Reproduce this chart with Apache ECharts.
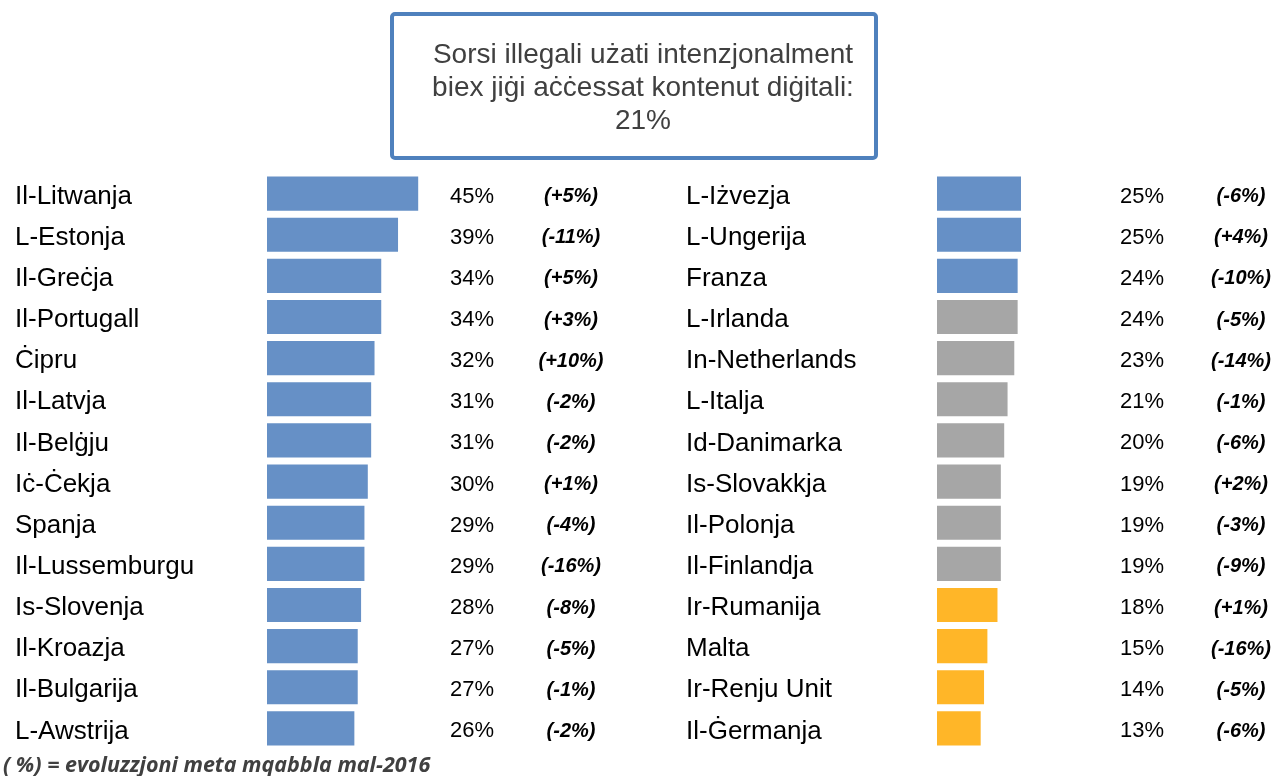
<!DOCTYPE html>
<html lang="mt">
<head>
<meta charset="UTF-8">
<title>Sorsi illegali</title>
<script src="https://cdn.jsdelivr.net/npm/echarts@6/dist/echarts.min.js"></script>
<style>
  html, body { margin: 0; padding: 0; background: #fff; }
  #chart { width: 1275px; height: 776px; }
</style>
</head>
<body>
<div id="chart"></div>
<script>
// data
const leftCountries = ['Il-Litwanja', 'L-Estonja', 'Il-Greċja', 'Il-Portugall', 'Ċipru', 'Il-Latvja', 'Il-Belġju',
  'Iċ-Ċekja', 'Spanja', 'Il-Lussemburgu', 'Is-Slovenja', 'Il-Kroazja', 'Il-Bulgarija', 'L-Awstrija'];
const leftValues = [45, 39, 34, 34, 32, 31, 31, 30, 29, 29, 28, 27, 27, 26];
const leftChanges = ['+5', '-11', '+5', '+3', '+10', '-2', '-2', '+1', '-4', '-16', '-8', '-5', '-1', '-2'];

const rightCountries = ['L-Iżvezja', 'L-Ungerija', 'Franza', 'L-Irlanda', 'In-Netherlands', 'L-Italja', 'Id-Danimarka',
  'Is-Slovakkja', 'Il-Polonja', 'Il-Finlandja', 'Ir-Rumanija', 'Malta', 'Ir-Renju Unit', 'Il-Ġermanja'];
const rightValues = [25, 25, 24, 24, 23, 21, 20, 19, 19, 19, 18, 15, 14, 13];
const rightChanges = ['-6', '+4', '-10', '-5', '-14', '-1', '-6', '+2', '-3', '-9', '+1', '-16', '-5', '-6'];
// above / around / below the EU average
const rightGroups = ['above', 'above', 'above', 'around', 'around', 'around', 'around', 'around', 'around', 'around',
  'below', 'below', 'below', 'below'];

const titleLines = ['Sorsi illegali użati intenzjonalment', 'biex jiġi aċċessat kontenut diġitali:', '21%'];
const footnote = '( %) = evoluzzjoni meta mqabbla mal-2016';

const groupColors = { above: '#6690c6', around: '#a6a6a6', below: '#ffb628' };
const sans = '"Liberation Sans", Arial, sans-serif';

const chart = echarts.init(document.getElementById('chart'), null, { renderer: 'canvas' });

const pct = v => v + '%';
const chg = c => '(' + c + '%)';

const TOP = 173, HEIGHT = 576, TEXT_SHIFT = 3;
const grids = [], xAxes = [], yAxes = [];

// one grid per column so each label column sits on its own category axis
function column(left, width, top, labels, labelStyle) {
  const i = grids.length;
  grids.push({ left, top, width, height: HEIGHT });
  xAxes.push({ type: 'value', gridIndex: i, min: 0, max: 50, show: false });
  yAxes.push({
    type: 'category', gridIndex: i, inverse: true, data: labels,
    axisLine: { show: false }, axisTick: { show: false }, splitLine: { show: false },
    axisLabel: Object.assign({ color: '#000', fontFamily: sans, interval: 0 }, labelStyle)
  });
  return i;
}

function panel(barLeft, countries, values, changes, nameMargin) {
  const bars = column(barLeft, 168, TOP, countries, { show: false });
  column(barLeft, 1, TOP + TEXT_SHIFT, countries, { align: 'left', margin: nameMargin, fontSize: 26 });
  column(barLeft + 183, 1, TOP + TEXT_SHIFT, values.map(pct), { align: 'left', margin: 0, fontSize: 22 });
  column(barLeft + 304, 1, TOP + TEXT_SHIFT, changes.map(chg), { align: 'center', margin: 0, fontSize: 20,
    fontStyle: 'italic', fontWeight: 'bold' });
  return bars;
}

const leftIdx = panel(267, leftCountries, leftValues, leftChanges, 252);
const rightIdx = panel(937, rightCountries, rightValues, rightChanges, 251);

chart.setOption({
  backgroundColor: '#fff',
  animation: false,
  grid: grids,
  xAxis: xAxes,
  yAxis: yAxes,
  series: [{
    type: 'bar', xAxisIndex: leftIdx, yAxisIndex: leftIdx,
    data: leftValues, barCategoryGap: '17%',
    itemStyle: { color: groupColors.above }
  }, {
    type: 'bar', xAxisIndex: rightIdx, yAxisIndex: rightIdx,
    data: rightValues.map((v, i) => ({ value: v, itemStyle: { color: groupColors[rightGroups[i]] } })),
    barCategoryGap: '17%'
  }],
  graphic: [{
    type: 'rect',
    shape: { x: 392, y: 14, width: 484, height: 144, r: 3 },
    style: { fill: '#fff', stroke: '#4f81bd', lineWidth: 4 }
  }, {
    type: 'text', x: 643, y: 88,
    style: { text: titleLines.join('\n'), fill: '#404040', font: '28px ' + sans,
      align: 'center', verticalAlign: 'middle', lineHeight: 33 }
  }, {
    type: 'text', x: 3, y: 766,
    style: { text: footnote, fill: '#404040', font: 'italic bold 21.5px "Open Sans", sans-serif',
      verticalAlign: 'middle' }
  }]
});
</script>
</body>
</html>
